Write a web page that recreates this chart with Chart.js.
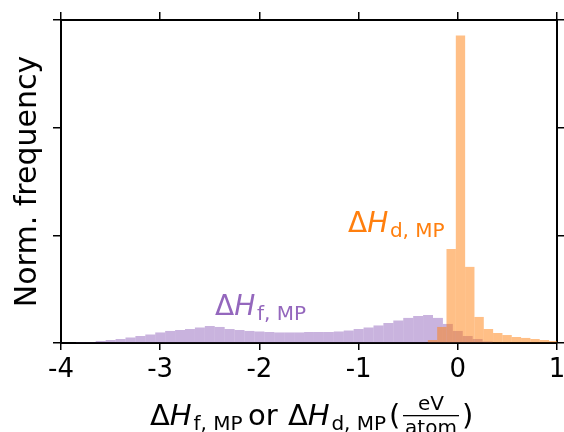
<!DOCTYPE html>
<html>
<head>
<meta charset="utf-8">
<script src="https://cdn.jsdelivr.net/npm/chart.js@4.4.1/dist/chart.umd.min.js"></script>
<style>
  html, body { margin: 0; padding: 0; background: #fff; }
  #wrap { width: 564px; height: 432px; }
</style>
</head>
<body>
<div id="wrap"><canvas id="hist"></canvas></div>
<script>
// x ticks shared by both histograms
const xTicks = [-4, -3, -2, -1, 0, 1];

// formation enthalpy (MP) histogram, bin width 0.1
const formCenters = [-3.8, -3.7, -3.6, -3.5, -3.4, -3.3, -3.2, -3.1, -3.0, -2.9,
  -2.8, -2.7, -2.6, -2.5, -2.4, -2.3, -2.2, -2.1, -2.0, -1.9,
  -1.8, -1.7, -1.6, -1.5, -1.4, -1.3, -1.2, -1.1, -1.0, -0.9,
  -0.8, -0.7, -0.6, -0.5, -0.4, -0.3, -0.2, -0.1, 0.0, 0.1, 0.2, 0.3];
const formFreq = [0.005, 0.009, 0.019, 0.028, 0.037, 0.051, 0.065, 0.079, 0.098, 0.112,
  0.121, 0.130, 0.144, 0.158, 0.149, 0.130, 0.121, 0.112, 0.107, 0.102,
  0.098, 0.098, 0.098, 0.102, 0.102, 0.102, 0.107, 0.116, 0.130, 0.144,
  0.163, 0.186, 0.209, 0.233, 0.251, 0.260, 0.233, 0.177, 0.112, 0.065, 0.037, 0.014];

// decomposition enthalpy (MP) histogram, bin width ~0.094
const decompCenters = [-0.255, -0.161, -0.067, 0.027, 0.121, 0.215, 0.309,
  0.403, 0.497, 0.591, 0.685, 0.779, 0.873, 0.967];
const decompFreq = [0.028, 0.149, 0.874, 2.856, 0.707, 0.242, 0.130,
  0.093, 0.074, 0.056, 0.047, 0.037, 0.028, 0.019];

const FONT = '"DejaVu Sans", sans-serif';
const PURPLE = '#9467bd';
const ORANGE = '#ff7f0e';

function pairs(xs, ys) {
  return xs.map((x, i) => ({ x: x, y: ys[i] }));
}

// draws "ΔH" + subscript, returns end x
function drawDeltaH(ctx, x, y, size, sub, color) {
  ctx.fillStyle = color;
  ctx.textAlign = 'left';
  ctx.textBaseline = 'alphabetic';
  ctx.font = size + 'px ' + FONT;
  ctx.fillText('Δ', x, y);
  x += ctx.measureText('Δ').width;
  ctx.font = 'italic ' + size + 'px ' + FONT;
  ctx.fillText('H', x, y);
  x += ctx.measureText('H').width + size * 0.06;
  const s = Math.round(size * 0.7);
  ctx.font = s + 'px ' + FONT;
  ctx.fillText(sub, x, y + size * 0.17);
  return x + ctx.measureText(sub).width;
}

const labelsPlugin = {
  id: 'labels',
  afterDraw(chart) {
    const ctx = chart.ctx;
    ctx.save();
    // in-plot labels
    drawDeltaH(ctx, 215, 315, 28, 'f, MP', PURPLE);
    drawDeltaH(ctx, 348, 232, 28, 'd, MP', ORANGE);

    // x axis title
    const base = 425;
    drawDeltaH(ctx, 150, base, 29, 'f, MP', '#000');
    ctx.font = '29px ' + FONT;
    ctx.fillText('or', 248, base);
    drawDeltaH(ctx, 288, base, 29, 'd, MP', '#000');
    ctx.font = '29px ' + FONT;
    ctx.fillText('(', 389, base);
    ctx.font = '20px ' + FONT;
    ctx.textAlign = 'center';
    ctx.fillText('eV', 431, 410);
    ctx.fillText('atom', 431, 434);
    ctx.fillRect(403, 415, 56, 1.3);
    ctx.textAlign = 'left';
    ctx.font = '29px ' + FONT;
    ctx.fillText(')', 462, base);
    ctx.restore();
  }
};

const tickGrid = { drawOnChartArea: false, offset: false, tickLength: 8, color: '#000', lineWidth: 1.5 };
const spine = { color: '#000', width: 2 };

new Chart(document.getElementById('hist'), {
  type: 'bar',
  data: {
    datasets: [
      {
        label: 'decomp',
        data: pairs(decompCenters, decompFreq),
        xAxisID: 'xd',
        backgroundColor: 'rgba(255, 127, 14, 0.5)',
        borderWidth: 0,
        inflateAmount: 0,
        barPercentage: 1,
        categoryPercentage: 1,
        grouped: false
      },
      {
        label: 'form',
        data: pairs(formCenters, formFreq),
        xAxisID: 'x',
        backgroundColor: 'rgba(148, 103, 189, 0.5)',
        borderWidth: 0,
        inflateAmount: 0,
        barPercentage: 1,
        categoryPercentage: 1,
        grouped: false
      }
    ]
  },
  plugins: [labelsPlugin],
  options: {
    responsive: true,
    maintainAspectRatio: false,
    animation: false,
    layout: { padding: { left: 0, right: 0, top: 12, bottom: 0 } },
    plugins: {
      legend: { display: false },
      tooltip: { enabled: false }
    },
    scales: {
      x: {
        type: 'linear',
        position: 'bottom',
        offset: false,
        min: -4,
        max: 1,
        afterBuildTicks: (s) => { s.ticks = xTicks.map(v => ({ value: v })); },
        afterFit: (s) => { s.height = 89; s.paddingLeft = 0; s.paddingRight = 0; },
        ticks: {
          color: '#000',
          padding: 5,
          maxRotation: 0,
          font: { family: FONT, size: 26 }
        },
        grid: Object.assign({}, tickGrid, { tickLength: 7 }),
        border: spine
      },
      xd: {
        type: 'linear',
        display: false,
        offset: false,
        min: -4,
        max: 1
      },
      xTop: {
        type: 'linear',
        position: 'top',
        offset: false,
        min: -4,
        max: 1,
        afterBuildTicks: (s) => { s.ticks = xTicks.map(v => ({ value: v })); },
        afterFit: (s) => { s.height = 8; s.paddingLeft = 0; s.paddingRight = 0; },
        ticks: { display: false },
        grid: tickGrid,
        border: spine
      },
      y: {
        min: 0,
        max: 3,
        afterFit: (s) => { s.width = 61; },
        ticks: { display: false, stepSize: 1 },
        grid: tickGrid,
        border: spine,
        title: {
          display: true,
          text: 'Norm. frequency',
          color: '#000',
          font: { family: FONT, size: 30 },
          padding: { top: 10, bottom: 0 }
        }
      },
      yRight: {
        position: 'right',
        min: 0,
        max: 3,
        afterFit: (s) => { s.width = 7; },
        ticks: { display: false, stepSize: 1 },
        grid: tickGrid,
        border: spine
      }
    }
  }
});
</script>
</body>
</html>
